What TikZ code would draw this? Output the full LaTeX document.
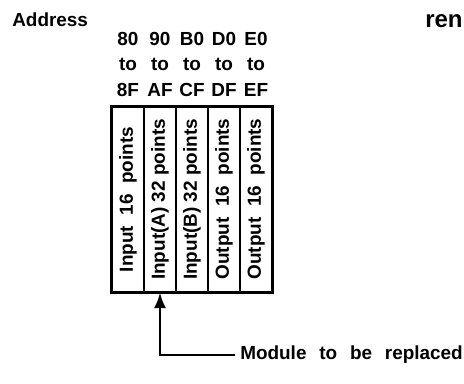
\documentclass[tikz,border=0pt]{standalone}
\usepackage{fontspec}
\setmainfont{Liberation Sans}
\usetikzlibrary{arrows.meta}
\begin{document}
\begin{tikzpicture}[x=0.75pt,y=-0.75pt,
  lbl/.style={font=\fontsize{14.2}{16}\selectfont\bfseries, inner sep=0},
  col/.style={draw, line width=1.1pt, minimum width=24pt, minimum height=138.75pt, inner sep=0,
    font=\fontsize{14.2}{16}\selectfont\bfseries},
  conn/.style={line width=1.5pt, -{Latex[length=11.5pt,width=9pt]}}]
\useasboundingbox (0,0) rectangle (464,383);
\node[lbl, anchor=base west] (addr) at (12,26) {Address};
\node[font=\fontsize{18}{20}\selectfont\bfseries, inner sep=0, anchor=base west] (ren) at (425,27) {ren};
% address labels
\foreach \i/\x/\a/\b in {1/128/80/8F, 2/160/90/AF, 3/192/B0/CF, 4/224/D0/DF, 5/256/E0/EF}{
  \node[lbl, anchor=base] (s\i) at (\x,45) {\a};
  \node[lbl, anchor=base] (t\i) at (\x,70.5) {to};
  \node[lbl, anchor=base] (e\i) at (\x,96) {\b};
}
% columns
\node[col] (c1) at (128,199.5) {\rotatebox{90}{Input\ \ 16\ \ points}};
\node[col] (c2) at (160,199.5) {\rotatebox{90}{Input(A) 32 points}};
\node[col] (c3) at (192,199.5) {\rotatebox{90}{Input(B) 32 points}};
\node[col] (c4) at (224,199) {\rotatebox{90}{Output\ \ 16\ \ points}};
\node[col] (c5) at (256,199) {\rotatebox{90}{Output\ \ 16\ \ points}};
\draw[line width=1.9pt] (c1.north west) rectangle (c5.south east);
% module label and arrow
\node[lbl, anchor=west, inner xsep=3.75pt] (m) at (235,355) {Module\hspace{9.6pt}to\hspace{9.6pt}be\hspace{9.6pt}replaced};
\draw[conn] (m.west) -| (c2.south);
\end{tikzpicture}
\end{document}
